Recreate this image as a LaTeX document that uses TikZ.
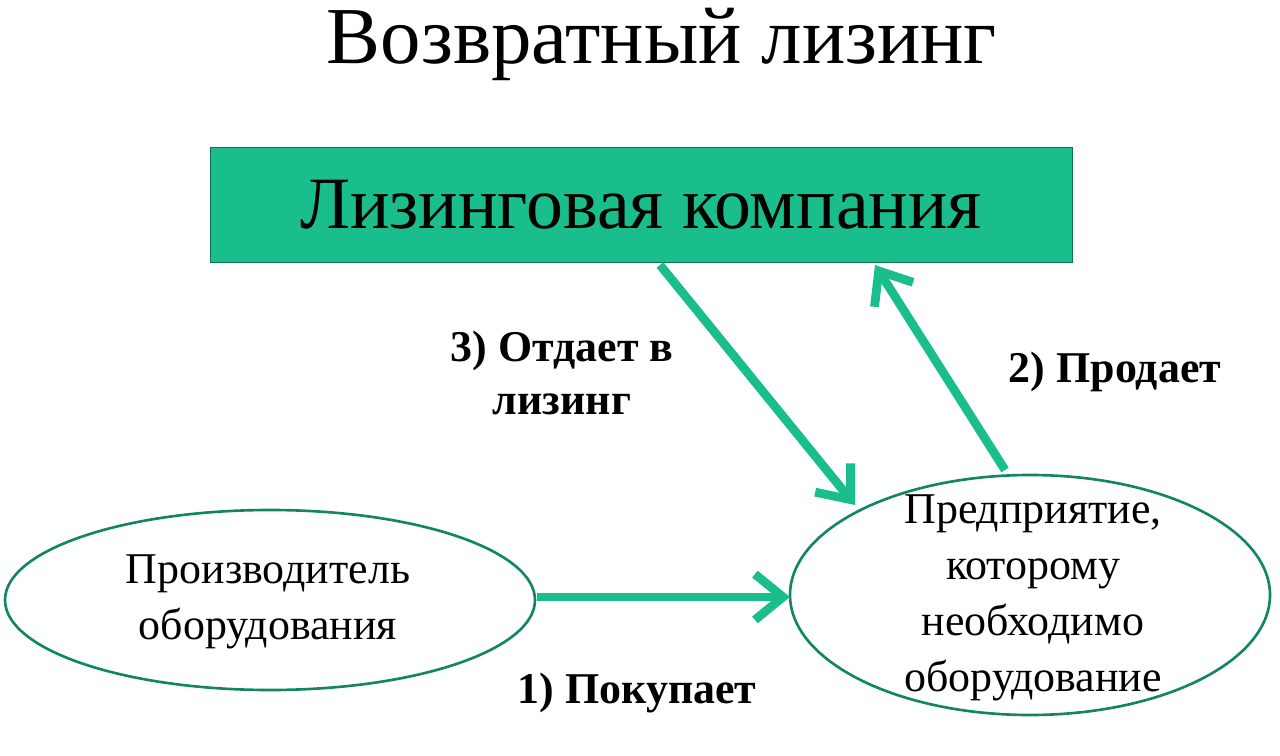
\documentclass[tikz,border=0pt]{standalone}
\usepackage{fontspec}
\setmainfont{Liberation Serif}
\usetikzlibrary{arrows.meta}
\definecolor{teal}{RGB}{26,190,140}
\tikzset{
  pfeil/.style={-{Straight Barb[length=16pt,width=26pt,line width=5pt]},color=teal,line width=5pt},
  marke/.style={font=\fontsize{25}{30}\selectfont\bfseries,align=center}
}
\begin{document}
\begin{tikzpicture}[x=0.02cm,y=-0.02cm]
\useasboundingbox (0,0) rectangle (1280,756);

% Titel
\node (titel) at (662,44) {\fontsize{46}{50}\selectfont Возвратный лизинг};

% Lizinggesellschaft
\node[draw=teal!60!black,fill=teal,minimum width=17.24cm,minimum height=2.3cm,
  font=\fontsize{42}{48}\selectfont] (firma) at (641,205) {Лизинговая компания};

% Ellipsen
\draw[teal!70!black,line width=1.5pt] (270,600) ellipse[x radius=265,y radius=90];
\node[align=center,font=\fontsize{25}{32}\selectfont] (hersteller) at (268,602)
  {Производитель\\оборудования};
\draw[teal!70!black,line width=1.5pt] (1030,595) ellipse[x radius=240,y radius=120];
\node[align=center,font=\fontsize{25}{32}\selectfont] (unternehmen) at (1033,598)
  {Предприятие,\\которому\\необходимо\\оборудование};

% Punkte an den Raendern
\coordinate (h1) at (537,597);
\coordinate (u1) at (790,597);
\coordinate (u2) at (1005,470);
\coordinate (f2) at (875,265);
\coordinate (f3) at (660,265);
\coordinate (u3) at (855,505);

% Pfeile
\draw[pfeil] (h1)--(u1);
\draw[pfeil] (u2)--(f2);
\draw[pfeil] (f3)--(u3);

% Beschriftung
\node[marke] (kauf) at (637,693) {1) Покупает};
\node[marke] (verkauf) at (1115,372) {2) Продает};
\node[marke] (leasing) at (562,373) {3) Отдает в\\лизинг};

\end{tikzpicture}
\end{document}
